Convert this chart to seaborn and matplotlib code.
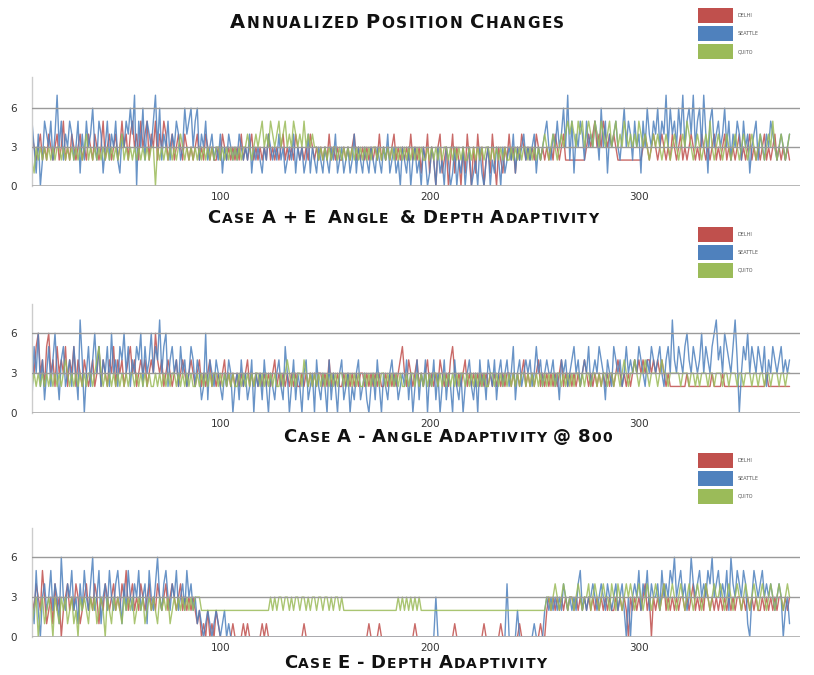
import numpy as np
import pandas as pd
import matplotlib
matplotlib.use("Agg")
import matplotlib.pyplot as plt
import seaborn as sns
from matplotlib.offsetbox import TextArea, HPacker, DrawingArea, AnnotationBbox
from matplotlib.patches import Rectangle

# ========== data: one digit per day (position changes) ==========
CITIES = ["Delhi", "Seattle", "Quito"]
COLORS = {"Delhi": "#C0504D", "Seattle": "#4F81BD", "Quito": "#9BBB59"}
FIRST_DAY = 8  # first plotted day on the category axis

AE_DELHI = """
3243234232 4323423523 2432342324 3243235234 2342353424 5342534524 3524354234 2343243232 3423243232 2324323232
3242323423 2323242323 2342323243 2323243232 3232423232 2323234232 3232323242 3232342323 2324232313 2413203412
3024132031 4203142302 3142032132 4231324323 2324323232 3243234222 2222222343 4534354343 4322222222 2222343234
3234323243 2342323432 3243232342 3234232323 4232342323 2342323423 23232
"""
AE_SEATTLE = """
3453140254 3524735243 5423514253 4632541352 4352143546 4705362543 5736243524 3542364563 5624352342 3241324323
2432324132 3213243232 4231232413 2312413213 2132132412 3123124132 1321321321 3241231203 2130231203 2013203120
3201302130 2301203102 3021320312 3241323423 2341323453 2435346372 5143542534 3542635143 4532463542 5341536435
4635473645 3647356473 5637415634 5346352435 4253413452 4324354323 43234
"""
AE_QUITO = """
2321323232 3232332323 2323232342 3232323232 3232342323 2323232323 3032323232 3234323232 3232323232 3323232323
2323343234 3453435434 5345343543 4353434332 3232323323 2323232323 2323233232 3232323232 3232323232 2323232323
3232323232 2323232323 3232323232 2323232332 3232323432 3432343454 5435453454 3543543453 4534354343 4354343234
3432343234 3234354323 4323435323 4323432343 2343234323 4323435323 43234
"""

A_DELHI = """
3243563425 6342534352 4352432432 3423524324 3524342345 3423434234 3643423432 3423432343 2342323423 2323423232
3232342323 2323232342 3232323232 2323232323 3232423232 2323232323 3232323232 2323232345 3243234232 3423232432
3245323234 2323232323 2323232323 3232323423 2323423232 3232342323 2323234323 2323232323 2343232323 4343434434
3434323222 2222232222 2222222322 2232222222 2222222222 2223222222 22222
"""
A_SEATTLE = """
2415362413 5246314523 4253174035 2463524352 6342546352 4354625346 3547356245 3425342354 2431261432 4321324302
3142312403 2314203213 4215302413 2034123042 1320413203 4123021341 2310231420 3213423123 2413024132 4032413024
1320421302 3421304231 4324134234 2351342343 4235342343 3423143423 4534234352 3435431432 5434235343 4354324354
3453245374 3543564354 3463543567 4536543574 0354635435 4352435434 53434
"""
A_QUITO = """
2323232323 2323232343 2323232323 3234532323 2323232323 3232323232 2323232323 3232323232 2323232323 3232323232
2323232323 3232323232 2323432323 3243232323 2323232323 3232323232 2323232323 3232323232 2323323232 3232332323
2323232332 3232323232 2332323232 3232323323 2323232323 2323323232 3233232332 3323233233 2332343233 4323343233
3234332333 3323332332 3233323323 3323323332 3323332332 3323323332 33233
"""

E_DELHI = """
1232432531 2314230234 2324312342 3243132432 3423243523 4232432342 3243234234 3234232323 2120102010 2100000010
0001010000 0010100000 0000000000 0010000000 0000000000 0000000000 0001000010 0000000000 0000010000 0000000000
0000100000 0000000010 0000001000 0000010000 0000010023 2323232323 3232323232 3232323232 2323232032 3232342303
2323423232 3233232342 3232432323 2323232323 3232323232 2323232323 32323
"""
E_SEATTLE = """
2431520342 3524316324 3523142532 4623513425 3245314253 2435234153 2463245324 3523425342 3121012101 2101201000
0000000000 0000000000 0000000000 0000000000 0000000000 0000000000 0000000000 0000000000 0000000000 0000030000
0000000000 0000000000 0000000004 0000200000 0010000232 3232324323 2324523233 4323432432 3423420303 4352435243
3425343546 3453423643 4534354634 5343526435 4354103543 4534343234 30231
"""
E_QUITO = """
2312302312 3203213231 2312032321 3231232032 1323213232 3123231232 3213232312 3232323232 3332222222 2222222222
2222222222 2222223232 3323323233 2332323323 3233232332 3222222222 2222222222 2222222323 2323232322 2222222222
2222222222 2222222222 2222222222 2222222222 2222222233 2343234323 3234323342 3432343324 3243234343 2343234323
4323432343 2343234323 4323432343 3432343234 3234323432 3432343234 32343
"""

PANELS = [
    ("Case A + E  Angle  & Depth Adaptivity", {"Delhi": AE_DELHI, "Seattle": AE_SEATTLE, "Quito": AE_QUITO}),
    ("Case A - Angle Adaptivity @ 800", {"Delhi": A_DELHI, "Seattle": A_SEATTLE, "Quito": A_QUITO}),
    ("Case E - Depth Adaptivity", {"Delhi": E_DELHI, "Seattle": E_SEATTLE, "Quito": E_QUITO}),
]
YTICKS = [0, 3, 6]
XTICKS = [100, 200, 300]


def digits(s):
    return [int(c) for c in s if c.isdigit()]


def long_form(series):
    frames = []
    for city, s in series.items():
        vals = digits(s)
        frames.append(pd.DataFrame({"day": np.arange(FIRST_DAY, FIRST_DAY + len(vals)),
                                    "value": vals, "city": city}))
    return pd.concat(frames, ignore_index=True)


def small_caps(fig, text, x, y, big=13, small=10, track=1.0):
    # fake small caps: first letter of each word bigger, letters spaced out
    boxes = []
    words = text.split(" ")
    for i, w in enumerate(words):
        if i > 0:
            boxes.append(DrawingArea(small * 0.3, 1))
        for j, ch in enumerate(w):
            size = big if j == 0 else small
            boxes.append(TextArea(ch.upper(), textprops=dict(fontsize=size, fontweight="bold", color="#111111")))
    pack = HPacker(children=boxes, align="baseline", pad=0, sep=track)
    ab = AnnotationBbox(pack, (x, y), xycoords="figure fraction", frameon=False, box_alignment=(0.5, 0.5))
    fig.add_artist(ab)


def color_legend(fig, y_top_px):
    for i, city in enumerate(CITIES):
        y = 1 - (y_top_px + i * 18) / 675
        fig.add_artist(Rectangle((698 / 814, y - 15 / 675), 35 / 814, 15 / 675,
                                 transform=fig.transFigure, color=COLORS[city], lw=0))
        fig.text(738 / 814, y - 7.5 / 675, city.upper(), fontsize=3.5, color="#555555", va="center")


sns.set_style("white")
plt.rcParams["font.family"] = ["DejaVu Sans"]

fig = plt.figure(figsize=(8.14, 6.75), dpi=100)

# axes placement (figure fraction) and y-limit per panel
boxes = [(0.7244, 8.4), (0.3881, 8.2), (0.0563, 8.2)]
subtitle_pos = [(0.495, 0.677), (0.550, 0.353), (0.510, 0.018)]
legend_top = [8, 227, 453]

for (name, series), (bottom, ytop), (sx, sy), ltop in zip(PANELS, boxes, subtitle_pos, legend_top):
    ax = fig.add_axes([0.0393, bottom, 0.9435, 0.1615])
    df = long_form(series)
    sns.lineplot(data=df, x="day", y="value", hue="city", hue_order=CITIES, palette=COLORS,
                 linewidth=1.0, alpha=0.85, estimator=None, legend=False, ax=ax)
    for yv in [3, 6]:
        ax.axhline(yv, color="#9a9a9a", lw=1.0, zorder=5)
    ax.axhline(0, color="#b0b0b0", lw=2.0, zorder=5)
    ax.set_xlim(10, 377)
    ax.set_ylim(0, ytop)
    ax.set_yticks(YTICKS)
    ax.set_xticks(XTICKS)
    ax.tick_params(axis="y", length=0, labelsize=7.5, colors="#333333", pad=11)
    ax.tick_params(axis="x", length=0, labelsize=7.5, colors="#333333", pad=4)
    ax.set_xlabel("")
    ax.set_ylabel("")
    for sp in ["top", "right", "bottom"]:
        ax.spines[sp].set_visible(False)
    ax.spines["left"].set_color("#cccccc")
    ax.spines["left"].set_linewidth(1.0)
    small_caps(fig, name, sx, sy, big=13, small=10, track=0.9)
    color_legend(fig, ltop)

small_caps(fig, "Annualized Position Changes", 0.488, 0.967, big=14, small=11, track=1.1)

fig.savefig("out.png", dpi=100)
